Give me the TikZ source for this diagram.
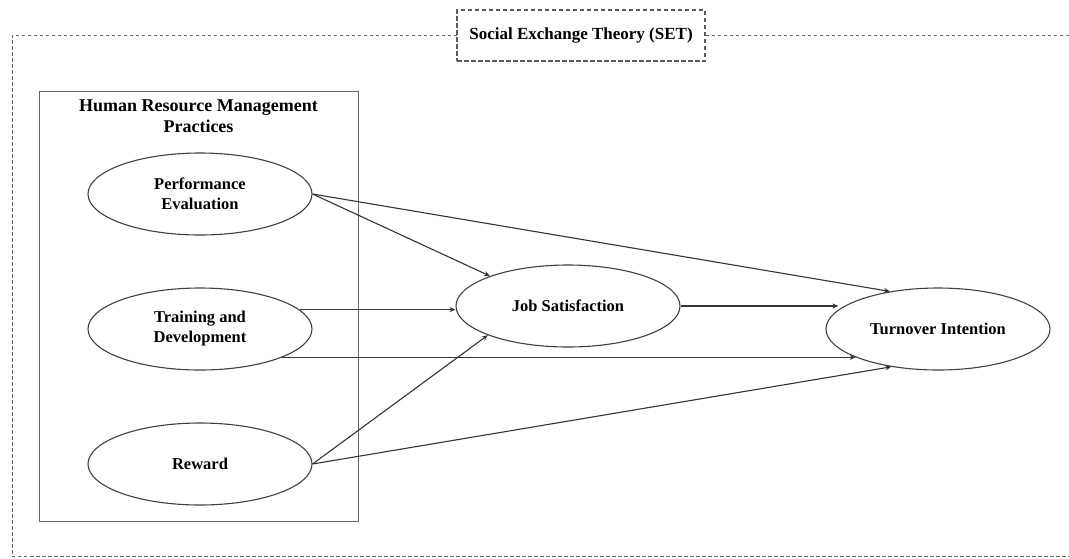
\documentclass[tikz,border=0pt]{standalone}
\usepackage{fontspec}
\setmainfont{Liberation Serif}
\usetikzlibrary{arrows.meta,shapes.geometric}
\begin{document}
\begin{tikzpicture}[x=1pt,y=-1pt,
  ell/.style={ellipse, draw=black!75, line width=1.1pt, minimum width=224pt, minimum height=82pt, inner sep=0pt, align=center, font=\fontsize{16.5}{20}\selectfont\bfseries},
  conn/.style={draw=black!80, line width=1.1pt, -{Stealth[length=6pt,width=5pt]}},
  outer/.style={draw=black!60, line width=1pt, dash pattern=on 3.5pt off 2.5pt},
  setbox/.style={draw=black!65, line width=1.2pt, dash pattern=on 4.5pt off 2.5pt, fill=white, minimum width=248pt, minimum height=51pt, inner sep=0pt, font=\fontsize{17}{20}\selectfont\bfseries},
  hrm/.style={draw=black!60, line width=1pt}
]
\useasboundingbox (0,0) rectangle (1069,558);
% outer frame
\coordinate (otr) at (1069,35);
\coordinate (otl) at (12,35);
\coordinate (obl) at (12,556);
\coordinate (obr) at (1069,556);
\draw[outer] (otr) -- (otl) -- (obl) -- (obr);
\node[setbox] (set) at (581,35.5) {Social Exchange Theory (SET)};
% HRM box
\coordinate (h1) at (39,91);
\coordinate (h2) at (358,521);
\draw[hrm] (h1) rectangle (h2);
\node[align=center, font=\fontsize{18}{21}\selectfont\bfseries] (title) at (198.5,116.5) {Human Resource Management\\Practices};
% ellipses
\node[ell] (pe) at (200,194) {Performance\\Evaluation};
\node[ell] (td) at (200,329) {Training and\\Development};
\node[ell] (rw) at (200,464) {Reward};
\node[ell] (js) at (568,306) {Job Satisfaction};
\node[ell] (ti) at (938,329) {Turnover Intention};
% connectors
\draw[conn] (pe.east) -- (js.159);
\draw[conn] (pe.east) -- (ti.142);
\draw[conn] (td.11) -- (td.11 -| js.west);
\draw[conn] (td.-19.5) -- (td.-19.5 -| ti.199);
\draw[conn] (rw.east) -- (js.200);
\draw[conn] (rw.east) -- (ti.219);
\draw[conn] (js.east) -- (js.east -| ti.169);
\end{tikzpicture}
\end{document}
